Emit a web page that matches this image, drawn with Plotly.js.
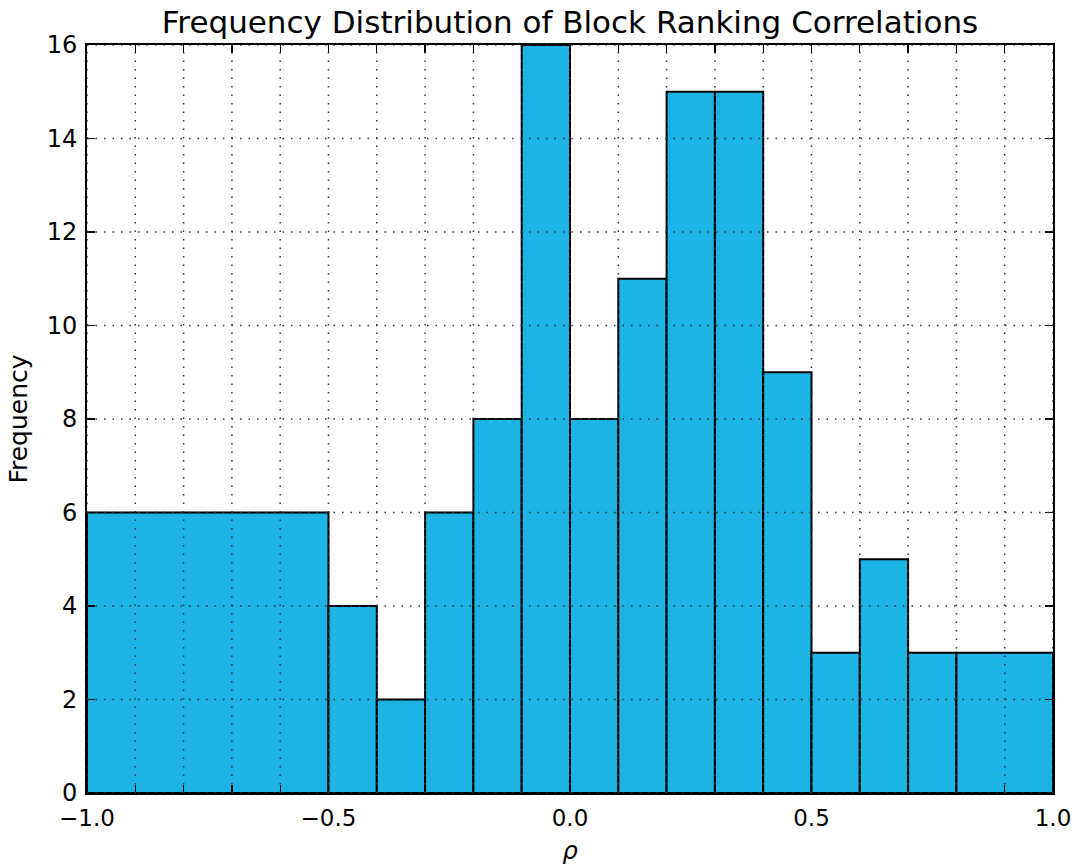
<!DOCTYPE html>
<html>
<head>
<meta charset="utf-8">
<script src="https://cdn.plot.ly/plotly-3.0.1.min.js"></script>
<style>html,body{margin:0;padding:0;background:#fff;}#chart{width:1076px;height:865px;}</style>
</head>
<body>
<div id="chart"></div>
<script>
// Histogram bin edges and counts
const binEdges = [-1.0, -0.5, -0.4, -0.3, -0.2, -0.1, 0.0, 0.1, 0.2, 0.3, 0.4, 0.5, 0.6, 0.7, 0.8, 1.0];
const counts   = [6, 4, 2, 6, 8, 16, 8, 11, 15, 15, 9, 3, 5, 3, 3];

const xTickVals = [-1.0,-0.9,-0.8,-0.7,-0.6,-0.5,-0.4,-0.3,-0.2,-0.1,0.0,0.1,0.2,0.3,0.4,0.5,0.6,0.7,0.8,0.9,1.0];
const xTickText = ['\u22121.0','','','','','\u22120.5','','','','','0.0','','','','','0.5','','','','','1.0'];
const yTickVals = [0, 2, 4, 6, 8, 10, 12, 14, 16];

const centers = counts.map((_, i) => (binEdges[i] + binEdges[i+1]) / 2);
const widths  = counts.map((_, i) => binEdges[i+1] - binEdges[i]);

const trace = {
  type: 'bar',
  x: centers,
  y: counts,
  width: widths,
  marker: {color: '#1db3e4', line: {color: '#000', width: 2}},
  hoverinfo: 'x+y'
};

// dotted grid drawn above the bars (matplotlib classic style)
const gridLine = {color: '#333', width: 1.5, dash: '1.5px,7px'};
const shapes = [];
xTickVals.forEach(v => shapes.push({type: 'line', layer: 'above', xref: 'x', yref: 'paper', x0: v, x1: v, y0: 0, y1: 1, line: gridLine}));
yTickVals.forEach(v => shapes.push({type: 'line', layer: 'above', xref: 'paper', yref: 'y', x0: 0, x1: 1, y0: v, y1: v, line: gridLine}));

const font = {family: 'DejaVu Sans, sans-serif', color: '#000'};

const layout = {
  width: 1076, height: 865,
  margin: {l: 87, r: 23, t: 45, b: 72},
  paper_bgcolor: '#fff', plot_bgcolor: '#fff',
  showlegend: false,
  bargap: 0,
  shapes: shapes,
  font: Object.assign({size: 23}, font),
  title: {
    text: 'Frequency Distribution of Block Ranking Correlations',
    font: Object.assign({size: 31}, font),
    x: 0.5, xanchor: 'center', xref: 'paper',
    y: 1 - 22/865, yanchor: 'middle', yref: 'container'
  },
  xaxis: {
    range: [-1, 1], autorange: false,
    tickmode: 'array', tickvals: xTickVals, ticktext: xTickText,
    ticks: 'inside', ticklen: 8, tickwidth: 1.3, tickcolor: '#000',
    showline: true, linecolor: '#000', linewidth: 2, mirror: 'ticks',
    showgrid: false,
    zeroline: false, layer: 'above traces',
    tickfont: Object.assign({size: 23}, font),
    ticklabelstandoff: 3,
    title: {text: '<i>ρ</i>', font: Object.assign({size: 24}, font), standoff: 14}
  },
  yaxis: {
    range: [0, 16], autorange: false,
    tickmode: 'array', tickvals: yTickVals,
    ticks: 'inside', ticklen: 8, tickwidth: 1.3, tickcolor: '#000',
    showline: true, linecolor: '#000', linewidth: 2, mirror: 'ticks',
    showgrid: false,
    zeroline: false, layer: 'above traces',
    tickfont: Object.assign({size: 24}, font),
    ticklabelstandoff: 3,
    title: {text: 'Frequency', font: Object.assign({size: 25}, font), standoff: 12}
  }
};

Plotly.newPlot('chart', [trace], layout, {displayModeBar: false, staticPlot: true});
</script>
</body>
</html>
